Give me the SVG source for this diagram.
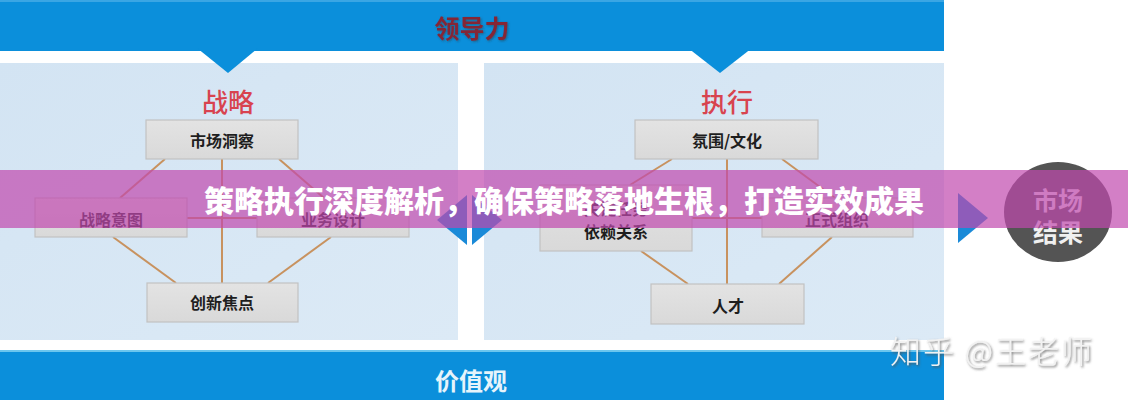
<svg xmlns="http://www.w3.org/2000/svg" width="1128" height="400" viewBox="0 0 1128 400">
<defs>
<style>
.cjk{font-family:"Noto Sans CJK SC","Liberation Sans",sans-serif}
.box{fill:url(#boxg);stroke:#c2c2c2;stroke-width:1.2}
.bt{font-size:16px;font-weight:700;fill:#1e1e1e;text-anchor:middle;dominant-baseline:central}
.conn{stroke:#c8925f;stroke-width:2;fill:none}
.band{fill:#0b8fdb}
.panel{fill:url(#panelg)}
.head{font-size:26px;font-weight:500;fill:#d8434f;text-anchor:middle;dominant-baseline:central}
.arr{fill:#1a8ad8}
</style>
<linearGradient id="boxg" x1="0" y1="0" x2="0" y2="1">
<stop offset="0" stop-color="#e3e3e3"/>
<stop offset="1" stop-color="#d9d9d9"/>
</linearGradient>
<linearGradient id="panelg" x1="0" y1="0" x2="1" y2="1">
<stop offset="0" stop-color="#d3e4f3"/>
<stop offset="1" stop-color="#dceaf6"/>
</linearGradient>
<filter id="shadow" x="-10%" y="-30%" width="120%" height="160%">
<feDropShadow dx="1.2" dy="1.5" stdDeviation="0.8" flood-color="#555" flood-opacity="0.8"/>
</filter>
<filter id="soft" x="-10%" y="-30%" width="120%" height="160%">
<feDropShadow dx="1" dy="1" stdDeviation="0.8" flood-color="#333" flood-opacity="0.5"/>
</filter>
</defs>

<rect width="1128" height="400" fill="#ffffff"/>

<g id="leadership">
<rect class="band" x="0" y="0" width="944" height="51"/>
<rect x="0" y="0" width="944" height="2" fill="#3aa6e4"/>
<text class="cjk" x="472" y="27" font-size="25" font-weight="700" fill="#852536" text-anchor="middle" dominant-baseline="central" filter="url(#soft)">领导力</text>
</g>

<g id="strategy-panel">
<rect class="panel" x="0" y="63" width="458" height="277"/>
<polygon class="band" points="197,48 258,48 228,73"/>
<text class="cjk head" x="228" y="100">战略</text>
</g>

<g id="execution-panel">
<rect class="panel" x="484" y="63" width="460" height="277"/>
<polygon class="band" points="688,48 752,48 720,73"/>
<text class="cjk head" x="727" y="100">执行</text>
</g>

<g id="values">
<rect class="band" x="0" y="350" width="944" height="50"/>
<rect x="0" y="350" width="944" height="2" fill="#6cc6ee"/>
<text class="cjk" x="471" y="379" font-size="24" font-weight="700" fill="#e6f4fb" text-anchor="middle" dominant-baseline="central">价值观</text>
</g>

<g id="connectors">
<line class="conn" x1="165" y1="159" x2="120" y2="198"/>
<line class="conn" x1="279" y1="159" x2="324" y2="198"/>
<line class="conn" x1="222" y1="159" x2="222" y2="283"/>
<line class="conn" x1="187" y1="218" x2="257" y2="218"/>
<line class="conn" x1="113" y1="237" x2="176" y2="283"/>
<line class="conn" x1="331" y1="237" x2="268" y2="283"/>
<line class="conn" x1="672" y1="159" x2="630" y2="185"/>
<line class="conn" x1="782" y1="159" x2="835" y2="198"/>
<line class="conn" x1="727" y1="159" x2="727" y2="284"/>
<line class="conn" x1="692" y1="218" x2="762" y2="218"/>
<line class="conn" x1="641" y1="251" x2="688" y2="284"/>
<line class="conn" x1="832" y1="237" x2="779" y2="284"/>
<polygon class="arr" points="467,195 437,220 467,245"/>
<polygon class="arr" points="472,195 502,220 472,245"/>
<polygon class="arr" points="958,193 988,218 958,243"/>
</g>

<g id="market-insight">
<rect class="box" x="146" y="120" width="152" height="39"/>
<text class="cjk bt" x="222" y="140">市场洞察</text>
</g>
<g id="strategic-intent">
<rect class="box" x="35" y="198" width="152" height="39"/>
<text class="cjk bt" x="111" y="219">战略意图</text>
</g>
<g id="business-design">
<rect class="box" x="257" y="198" width="152" height="39"/>
<text class="cjk bt" x="333" y="219">业务设计</text>
</g>
<g id="innovation-focus">
<rect class="box" x="147" y="283" width="151" height="39"/>
<text class="cjk bt" x="222" y="302">创新焦点</text>
</g>

<g id="culture">
<rect class="box" x="635" y="120" width="183" height="39"/>
<text class="cjk bt" x="727" y="140">氛围/文化</text>
</g>
<g id="key-tasks">
<rect class="box" x="540" y="185" width="152" height="66"/>
<text class="cjk bt" x="616" y="208">关键任务</text>
<text class="cjk bt" x="616" y="231">依赖关系</text>
</g>
<g id="formal-org">
<rect class="box" x="762" y="198" width="151" height="39"/>
<text class="cjk bt" x="837" y="219">正式组织</text>
</g>
<g id="talent">
<rect class="box" x="651" y="284" width="153" height="40"/>
<text class="cjk bt" x="728" y="305">人才</text>
</g>

<g id="market-results">
<ellipse cx="1058" cy="212" rx="54" ry="50" fill="#545454"/>
<text class="cjk" x="1058" y="199" font-size="25" font-weight="700" fill="#f0f0f0" text-anchor="middle" dominant-baseline="central">市场</text>
<text class="cjk" x="1058" y="231" font-size="25" font-weight="700" fill="#f0f0f0" text-anchor="middle" dominant-baseline="central">结果</text>
</g>

<g id="watermark">
<text class="cjk" x="890" y="349" font-size="31" font-weight="300" letter-spacing="2" fill="#f2f2f2" dominant-baseline="central" filter="url(#shadow)">知乎 @王老师</text>
</g>

<g id="title-overlay">
<rect x="0" y="170" width="1128" height="58" fill="#c148ae" fill-opacity="0.7"/>
<text class="cjk" x="564" y="199" font-size="30" font-weight="900" fill="#ffffff" text-anchor="middle" dominant-baseline="central">策略执行深度解析，确保策略落地生根，打造实效成果</text>
</g>
</svg>
